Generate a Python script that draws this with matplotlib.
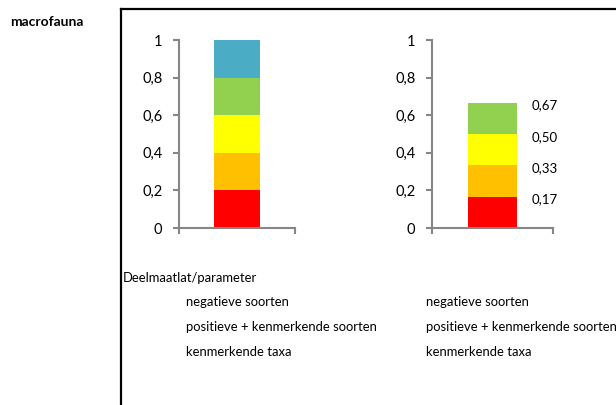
import numpy as np
import matplotlib.pyplot as plt
from matplotlib.lines import Line2D

plt.rcParams['font.family'] = ['Lato', 'DejaVu Sans']

# left chart: five equal classes
left_vals = [0.2, 0.2, 0.2, 0.2, 0.2]
left_colors = ['#FF0000', '#FFC000', '#FFFF00', '#92D050', '#4BACC6']

# right chart: four classes with boundary labels
right_vals = [1 / 6, 1 / 6, 1 / 6, 1 / 6]
right_colors = ['#FF0000', '#FFC000', '#FFFF00', '#92D050']
right_labels = ['0,17', '0,33', '0,50', '0,67']

yticks = [0, 0.2, 0.4, 0.6, 0.8, 1]
ytick_labels = ['0', '0,2', '0,4', '0,6', '0,8', '1']

params = ['negatieve soorten', 'positieve + kenmerkende soorten', 'kenmerkende taxa']

W, H = 616, 405
fig = plt.figure(figsize=(W / 100, H / 100), dpi=100)

grey = '#868686'


def px_axes(x0, x1, ytop, ybot):
    return fig.add_axes([x0 / W, (H - ybot) / H, (x1 - x0) / W, (ybot - ytop) / H])


def style(ax):
    ax.set_xlim(0, 1)
    ax.set_ylim(0, 1)
    for s in ['top', 'right']:
        ax.spines[s].set_visible(False)
    for s in ['left', 'bottom']:
        ax.spines[s].set_color(grey)
        ax.spines[s].set_linewidth(1.5)
    ax.set_yticks(yticks)
    ax.set_yticklabels(ytick_labels)
    ax.set_xticks([0, 1])
    ax.set_xticklabels(['', ''])
    ax.tick_params(axis='both', colors=grey, length=4, width=1.5, labelsize=10.5,
                   labelcolor='black', direction='out')
    ax.tick_params(axis='y', pad=8)
    ax.patch.set_alpha(0)


ax1 = px_axes(179, 295, 40, 228)
style(ax1)
bottom = 0
for v, c in zip(left_vals, left_colors):
    ax1.bar(0.5, v, width=0.4, bottom=bottom, color=c)
    bottom += v

ax2 = px_axes(432, 553, 40, 228)
style(ax2)
bottom = 0
for v, c, lab in zip(right_vals, right_colors, right_labels):
    ax2.bar(0.5, v, width=0.4, bottom=bottom, color=c)
    bottom += v
    ax2.annotate(lab, (0.82, bottom), xytext=(0, -2), textcoords='offset points',
                 fontsize=9.5, va='center', ha='left')

# frame
fig.add_artist(Line2D([121 / W, 121 / W], [0, (H - 9) / H], color='black', lw=1.6,
                      transform=fig.transFigure))
fig.add_artist(Line2D([121 / W, 1], [(H - 9) / H, (H - 9) / H], color='black', lw=1.6,
                      transform=fig.transFigure))

fig.text(10 / W, 1 - 22 / H, 'macrofauna', fontsize=10, fontweight='bold', va='center')
fig.text(123 / W, 1 - 278 / H, 'Deelmaatlat/parameter', fontsize=9.4, va='center')
for i, p in enumerate(params):
    y = 1 - (302 + 25 * i) / H
    fig.text(186 / W, y, p, fontsize=9.4, va='center')
    fig.text(426 / W, y, p, fontsize=9.4, va='center')

fig.savefig('out.png', dpi=100)
